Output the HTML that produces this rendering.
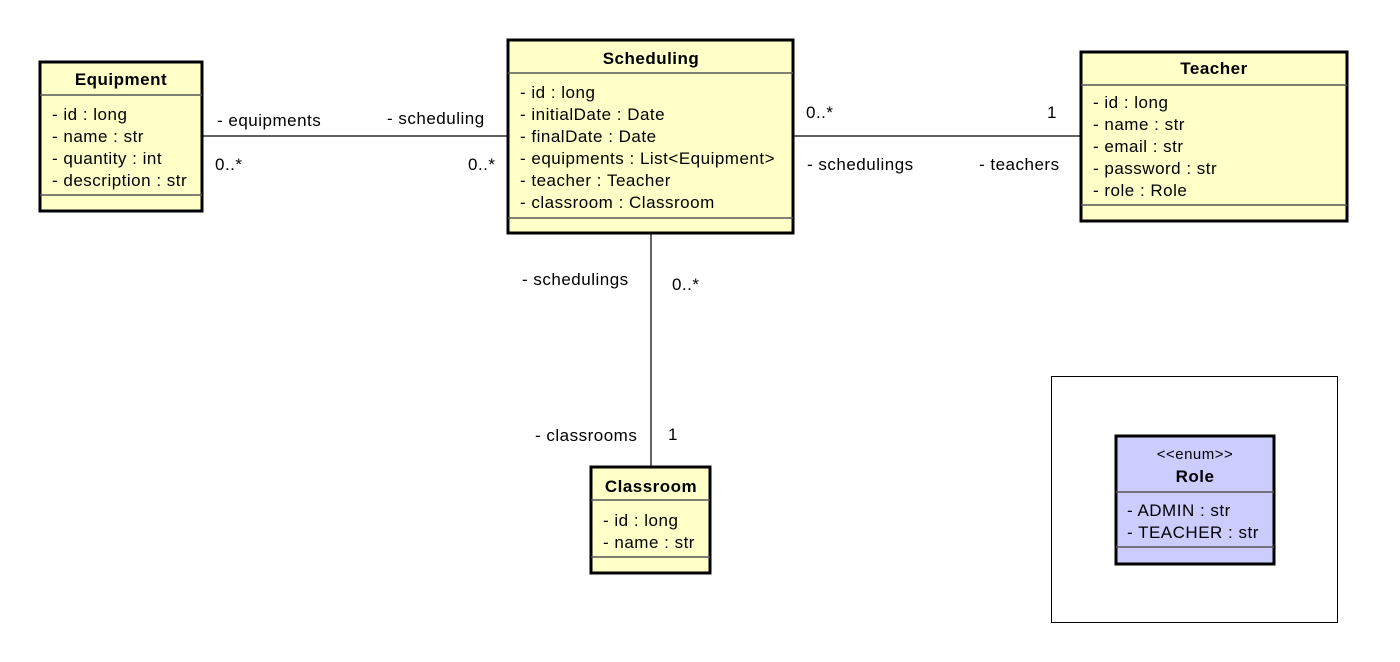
<!DOCTYPE html>
<html><head><meta charset="utf-8"><style>
html,body{margin:0;padding:0;background:#fff;width:1400px;height:662px;overflow:hidden}
svg{display:block}
text{font-family:"Liberation Sans",Arial,sans-serif;font-size:17px;letter-spacing:0.5px;fill:#000}
.b{font-weight:bold}
</style></head><body>
<svg width="1400" height="662" viewBox="0 0 1400 662">
<g stroke="#000" stroke-width="1.2" fill="none">
<line x1="202" y1="136" x2="507" y2="136"/>
<line x1="794" y1="136" x2="1080" y2="136"/>
<line x1="651" y1="234" x2="651" y2="466"/>
</g>
<!-- Equipment -->
<rect x="40" y="62" width="162" height="149" fill="#ffffc8" stroke="#000" stroke-width="3"/>
<line x1="40" y1="95" x2="202" y2="95" stroke="#555" stroke-width="1.5"/>
<line x1="40" y1="195" x2="202" y2="195" stroke="#555" stroke-width="1.5"/>
<text x="121" y="85" text-anchor="middle" class="b">Equipment</text>
<text x="52" y="120">- id : long</text>
<text x="52" y="142">- name : str</text>
<text x="52" y="164">- quantity : int</text>
<text x="52" y="186">- description : str</text>
<!-- Scheduling -->
<rect x="508" y="40" width="285" height="193" fill="#ffffc8" stroke="#000" stroke-width="3"/>
<line x1="508" y1="73" x2="793" y2="73" stroke="#555" stroke-width="1.5"/>
<line x1="508" y1="218" x2="793" y2="218" stroke="#555" stroke-width="1.5"/>
<text x="651" y="64" text-anchor="middle" class="b">Scheduling</text>
<text x="520" y="98">- id : long</text>
<text x="520" y="120">- initialDate : Date</text>
<text x="520" y="142">- finalDate : Date</text>
<text x="520" y="164">- equipments : List&lt;Equipment&gt;</text>
<text x="520" y="186">- teacher : Teacher</text>
<text x="520" y="208">- classroom : Classroom</text>
<!-- Teacher -->
<rect x="1081" y="52" width="266" height="169" fill="#ffffc8" stroke="#000" stroke-width="3"/>
<line x1="1081" y1="85" x2="1347" y2="85" stroke="#555" stroke-width="1.5"/>
<line x1="1081" y1="205" x2="1347" y2="205" stroke="#555" stroke-width="1.5"/>
<text x="1214" y="74" text-anchor="middle" class="b">Teacher</text>
<text x="1093" y="108">- id : long</text>
<text x="1093" y="130">- name : str</text>
<text x="1093" y="152">- email : str</text>
<text x="1093" y="174">- password : str</text>
<text x="1093" y="196">- role : Role</text>
<!-- Classroom -->
<rect x="591" y="467" width="119" height="106" fill="#ffffc8" stroke="#000" stroke-width="3"/>
<line x1="591" y1="500" x2="710" y2="500" stroke="#555" stroke-width="1.5"/>
<line x1="591" y1="557" x2="710" y2="557" stroke="#555" stroke-width="1.5"/>
<text x="651" y="492" text-anchor="middle" class="b">Classroom</text>
<text x="603" y="526">- id : long</text>
<text x="603" y="548">- name : str</text>
<rect x="1051.5" y="376.5" width="286" height="246" fill="none" stroke="#000" stroke-width="1"/>
<!-- Role -->
<rect x="1116" y="436" width="158" height="128" fill="#ccccff" stroke="#000" stroke-width="3"/>
<line x1="1116" y1="492" x2="1274" y2="492" stroke="#555" stroke-width="1.5"/>
<line x1="1116" y1="547" x2="1274" y2="547" stroke="#555" stroke-width="1.5"/>
<text x="1195" y="459" text-anchor="middle" style="font-size:15px">&lt;&lt;enum&gt;&gt;</text>
<text x="1195" y="482" text-anchor="middle" class="b">Role</text>
<text x="1127" y="516">- ADMIN : str</text>
<text x="1127" y="538">- TEACHER : str</text>
<!-- labels -->
<text x="217" y="126">- equipments</text>
<text x="215" y="170">0..*</text>
<text x="387" y="124">- scheduling</text>
<text x="468" y="170">0..*</text>
<text x="806" y="118">0..*</text>
<text x="807" y="170">- schedulings</text>
<text x="1047" y="118">1</text>
<text x="979" y="170">- teachers</text>
<text x="522" y="285">- schedulings</text>
<text x="672" y="290">0..*</text>
<text x="535" y="441">- classrooms</text>
<text x="668" y="440">1</text>
</svg>
</body></html>
